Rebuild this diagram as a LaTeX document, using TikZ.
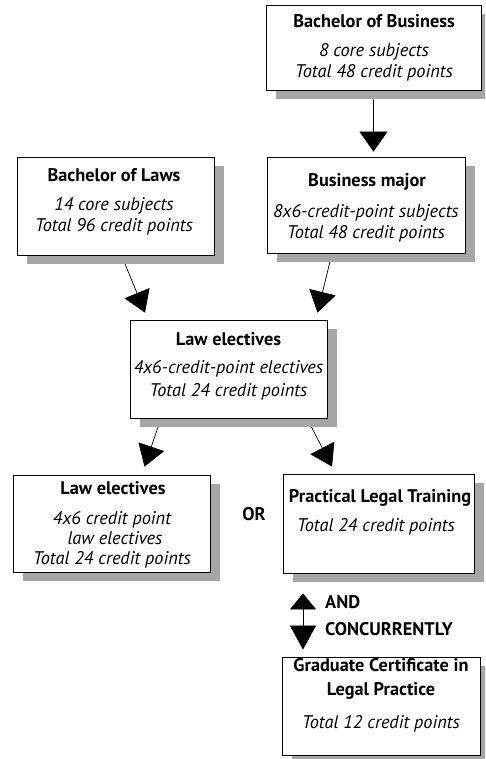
\documentclass[tikz,border=0pt]{standalone}
\usepackage{fontspec}
\setmainfont{PT Sans}
\usetikzlibrary{arrows.meta,shadows,calc}
\pgfdeclarelayer{bg}
\pgfsetlayers{bg,main}
\begin{document}
\begin{tikzpicture}[x=1pt,y=-1pt,
  box/.style={draw=black, line width=0.8pt, fill=white, rectangle, inner sep=0pt,
    drop shadow={shadow xshift=10pt, shadow yshift=-9pt, fill=black!35, opacity=1}},
  title/.style={font=\fontsize{18.3}{21}\selectfont\bfseries, anchor=base, inner sep=0pt},
  body/.style={font=\fontsize{18.3}{21}\selectfont\itshape, anchor=base, inner sep=0pt},
  tag/.style={font=\fontsize{18.3}{21}\selectfont\bfseries, anchor=base west, inner sep=0pt},
  link/.style={line width=0.7pt, -{Triangle[width=27pt,length=21pt]}},
  both/.style={line width=0.7pt, {Triangle[width=26pt,length=16pt]}-{Triangle[width=26pt,length=24pt]}},
]
\useasboundingbox (0,0) rectangle (485,759);
\clip (0,0) rectangle (485,759);

% programme boxes
\node[box, minimum width=215pt, minimum height=85pt] (bb)  at (373.5,47.5) {};
\node[box, minimum width=198pt, minimum height=96pt] (bm)  at (366,205) {};
\node[box, minimum width=197pt, minimum height=98pt] (bol) at (115.5,206) {};
\node[box, minimum width=197pt, minimum height=98pt] (le)  at (228.5,369) {};
\node[box, minimum width=197pt, minimum height=97pt] (le2) at (111.5,523.5) {};
\node[box, minimum width=191pt, minimum height=99pt] (plt) at (378.5,523.5) {};
\node[box, minimum width=198pt, minimum height=98pt] (gc)  at (381,706) {};

% box texts
\node[title] (bbT) at (374,28) {Bachelor of Business};
\node[body]  (bb1) at (374,57) {8 core subjects};
\node[body]  (bb2) at (374,78) {Total 48 credit points};

\node[title] (bmT) at (367,187) {Business major};
\node[body]  (bm1) at (366,218) {8x6-credit-point subjects};
\node[body]  (bm2) at (366,238) {Total 48 credit points};

\node[title] (bolT) at (114,182) {Bachelor of Laws};
\node[body]  (bol1) at (114,211) {14 core subjects};
\node[body]  (bol2) at (114,231) {Total 96 credit points};

\node[title] (leT) at (228.5,345) {Law electives};
\node[body]  (le1) at (228.5,373) {4x6-credit-point electives};
\node[body]  (le2b) at (228.5,396) {Total 24 credit points};

\node[title] (le2T) at (113,494) {Law electives};
\node[body]  (le21) at (112,524) {4x6 credit point};
\node[body]  (le22) at (115,544) {law electives};
\node[body]  (le23) at (112,564) {Total 24 credit points};

\node[title] (pltT) at (380,502) {Practical Legal Training};
\node[body]  (plt1) at (376,531) {Total 24 credit points};

\node[title] (gcT1) at (381,671) {Graduate Certificate in};
\node[title] (gcT2) at (381,695) {Legal Practice};
\node[body]  (gc1)  at (381,728) {Total 12 credit points};

% free labels
\node[title] (or)  at (254,520) {OR};
\node[tag]   (and) at (325,608) {AND};
\node[tag]   (conc) at (325,635) {CONCURRENTLY};

% connectors
\begin{pgfonlayer}{bg}
\draw[link, -{Triangle[width=28pt,length=20pt]}] (bb.south) -- ($(bb.south |- bm.north)+(0,-5)$);
\draw[link] ($(bol.south)+(6,0)$) -- ($(le.north)+(-83.5,-7)$);
\draw[link] ($(bm.south)+(-34,0)$) -- ($(le.north)+(89,-7)$);
\draw[link] ($(le.south)+(-67.5,0)$) -- ($(le2.north)+(33,-8)$);
\draw[link] ($(le.south)+(78.5,0)$) -- ($(plt.north)+(-46.5,-7)$);
\draw[both] ($(plt.south)+(-75.5,20)$) -- ($(gc.north)+(-78,-7)$);
\end{pgfonlayer}
\end{tikzpicture}
\end{document}
